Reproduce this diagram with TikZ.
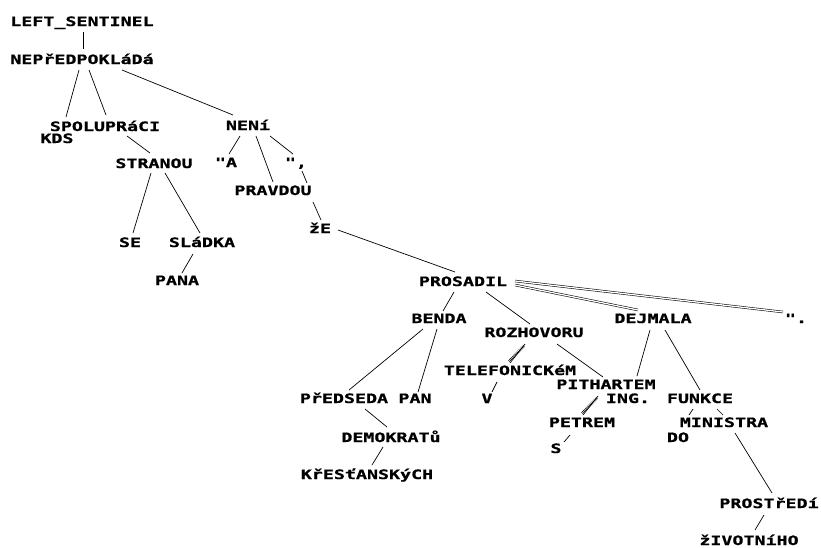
\documentclass[tikz,border=0pt]{standalone}
\usepackage{fontspec}
\setmonofont[FakeStretch=1.42, BoldFeatures={FakeBold=0.8}]{DejaVu Sans Mono}
\usetikzlibrary{calc}
\tikzset{
  w/.style={font=\ttfamily\bfseries\fontsize{12.9}{14}\selectfont, inner sep=0pt, anchor=base},
  e/.style={line width=0.7pt},
  dbl/.style={line width=0.55pt, double, double distance=1.3pt},
  hatch/.style={line width=2.4pt, dash pattern=on 0.6pt off 0.9pt},
}
\begin{document}
\begin{tikzpicture}[x=1pt,y=-1pt]
\useasboundingbox (0,0) rectangle (821,547);
\node[w] (ls) at (82,26) {LEFT\_SENTINEL};
\node[w] (nep) at (82,64) {NEPřEDPOKLáDá};
\node[w] (spol) at (105,131) {SPOLUPRáCI};
\node[w] (kds) at (57,143) {KDS};
\node[w] (neni) at (248,130) {NENí};
\node[w] (stran) at (154,168) {STRANOU};
\node[w] (qa) at (226,167) {"A};
\node[w] (qc) at (296,167) {",};
\node[w] (prav) at (273,195) {PRAVDOU};
\node[w] (ze) at (320,233) {žE};
\node[w] (se) at (130,247) {SE};
\node[w] (slad) at (202,247) {SLáDKA};
\node[w] (pana) at (177,285) {PANA};
\node[w] (pros) at (463,286) {PROSADIL};
\node[w] (benda) at (439,323) {BENDA};
\node[w] (rozh) at (534,337) {ROZHOVORU};
\node[w] (dej) at (653,323) {DEJMALA};
\node[w] (qd) at (796,323) {".};
\node[w] (tel) at (510,375) {TELEFONICKéM};
\node[w] (pith) at (606,389) {PITHARTEM};
\node[w] (pred) at (344,403) {PřEDSEDA};
\node[w] (pan) at (415,403) {PAN};
\node[w] (v) at (487,403) {V};
\node[w] (ing) at (628,403) {ING.};
\node[w] (funk) at (700,403) {FUNKCE};
\node[w] (petr) at (582,427) {PETREM};
\node[w] (min) at (724,427) {MINISTRA};
\node[w] (do) at (678,442) {DO};
\node[w] (s) at (556,453) {S};
\node[w] (demo) at (391,442) {DEMOKRATů};
\node[w] (kres) at (367,479) {KřESťANSKýCH};
\node[w] (prost) at (769,508) {PROSTřEDí};
\node[w] (ziv) at (749,545) {žIVOTNíHO};

\draw[e] ($(ls.base)+(1,6)$) -- ($(nep.base)+(1,-15)$);
\draw[e] ($(nep.base)+(-3,6)$) -- ($(kds.base)+(9,-26)$);
\draw[e] ($(nep.base)+(7,6)$) -- ($(spol.base)+(1,-16)$);
\draw[e] ($(nep.base)+(40,6)$) -- ($(neni.base)+(-15,-15)$);
\draw[e] ($(spol.base)+(22,5)$) -- ($(stran.base)+(-4,-15)$);
\draw[e] ($(neni.base)+(-8,6)$) -- ($(qa.base)+(3,-13)$);
\draw[e] ($(neni.base)+(8,6)$) -- ($(prav.base)+(0,-13)$);
\draw[e] ($(neni.base)+(22,6)$) -- ($(qc.base)+(-3,-13)$);
\draw[e] ($(qc.base)+(6,4)$) -- ($(prav.base)+(34,-12)$);
\draw[e] ($(prav.base)+(40,7)$) -- ($(ze.base)+(1,-13)$);
\draw[e] ($(ze.base)+(18,-3)$) -- ($(pros.base)+(-8,-14)$);
\draw[e] ($(stran.base)+(-3,5)$) -- ($(se.base)+(3,-14)$);
\draw[e] ($(stran.base)+(11,5)$) -- ($(slad.base)+(-2,-14)$);
\draw[e] ($(slad.base)+(-9,7)$) -- ($(pana.base)+(5,-12)$);
\draw[e] ($(pros.base)+(-9,6)$) -- ($(benda.base)+(4,-12)$);
\draw[e] ($(pros.base)+(23,6)$) -- ($(rozh.base)+(-4,-13)$);
\draw[dbl] ($(pros.base)+(52,-1)$) -- ($(dej.base)+(-15,-13)$);
\draw[dbl] ($(pros.base)+(52,-5)$) -- ($(qd.base)+(-13,-11)$);
\draw[e] ($(benda.base)+(-16,6)$) -- ($(pred.base)+(5,-13)$);
\draw[e] ($(benda.base)+(-2,6)$) -- ($(pan.base)+(3,-11)$);
\draw[e] ($(pred.base)+(21,6)$) -- ($(demo.base)+(-4,-15)$);
\draw[e] ($(demo.base)+(-8,5)$) -- ($(kres.base)+(5,-14)$);
\draw[e] ($(rozh.base)+(-9,7)$) -- ($(tel.base)+(0,-12)$);
\draw[hatch] ($(rozh.base)+(-10,9)$) -- ($(tel.base)+(-1,-14)$);
\draw[e] ($(rozh.base)+(23,7)$) -- ($(pith.base)+(-3,-12)$);
\draw[e] ($(tel.base)+(-13,7)$) -- ($(v.base)+(5,-11)$);
\draw[e] ($(pith.base)+(-8,7)$) -- ($(petr.base)+(1,-12)$);
\draw[hatch] ($(pith.base)+(-9,9)$) -- ($(petr.base)+(0,-14)$);
\draw[e] ($(petr.base)+(-12,8)$) -- ($(s.base)+(8,-11)$);
\draw[e] ($(dej.base)+(-3,7)$) -- ($(pith.base)+(31,-13)$);
\draw[e] ($(dej.base)+(12,7)$) -- ($(funk.base)+(0,-13)$);
\draw[e] ($(funk.base)+(-7,6)$) -- ($(do.base)+(11,-27)$);
\draw[e] ($(funk.base)+(17,6)$) -- ($(min.base)+(-1,-12)$);
\draw[e] ($(min.base)+(11,6)$) -- ($(prost.base)+(3,-15)$);
\draw[e] ($(prost.base)+(-5,7)$) -- ($(ziv.base)+(6,-15)$);
\end{tikzpicture}
\end{document}
